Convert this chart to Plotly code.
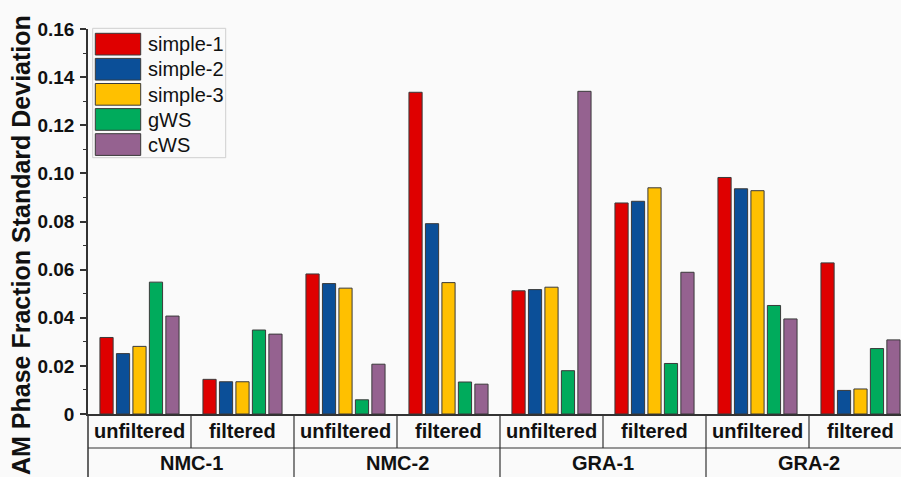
import plotly.graph_objects as go

# Sub-categories (filter state) and parent materials
subgroups = ["unfiltered", "filtered", "unfiltered", "filtered",
             "unfiltered", "filtered", "unfiltered", "filtered"]
materials = ["NMC-1", "NMC-2", "GRA-1", "GRA-2"]

# Standard deviation of AM phase fraction per method
simple_1 = [0.0318, 0.0144, 0.0582, 0.1337, 0.0512, 0.0877, 0.0983, 0.0628]
simple_2 = [0.0251, 0.0134, 0.0542, 0.0791, 0.0517, 0.0884, 0.0936, 0.0098]
simple_3 = [0.0281, 0.0134, 0.0523, 0.0546, 0.0527, 0.0940, 0.0928, 0.0104]
gws = [0.0548, 0.0349, 0.0059, 0.0133, 0.0180, 0.0210, 0.0451, 0.0272]
cws = [0.0407, 0.0332, 0.0207, 0.0124, 0.1341, 0.0589, 0.0395, 0.0308]

series_names = ["simple-1", "simple-2", "simple-3", "gWS", "cWS"]
series_values = [simple_1, simple_2, simple_3, gws, cws]
colors = ["#DF0000", "#0B4F98", "#FFC000", "#00AB5C", "#956290"]

y_tickvals = [0, 0.02, 0.04, 0.06, 0.08, 0.10, 0.12, 0.14, 0.16]
y_ticktext = ["0", "0.02", "0.04", "0.06", "0.08", "0.10", "0.12", "0.14", "0.16"]

W, H = 901, 477
ML, MR, MT, MB = 88, 0, 29, 63
PW, PH = W - ML - MR, H - MT - MB
CAT_PX = 103.0  # pixel width of one sub-category column

FONT = "Liberation Sans, Arial, sans-serif"
LINE = "#333333"
BG = "#fafafa"
TXT = "#111111"


def px_x(px):
    return (px - ML) / PW


def px_y(py):
    return (H - MB - py) / PH


x_pos = list(range(len(subgroups)))

fig = go.Figure()
for name, vals, col in zip(series_names, series_values, colors):
    fig.add_trace(go.Bar(
        x=x_pos, y=vals, name=name,
        marker=dict(color=col, line=dict(color="#3a3a3a", width=1)),
        showlegend=False,
    ))

shapes = []
annotations = []

# Category table under the axis
bottom_y = px_y(H)
mid_y = px_y(448)
shapes.append(dict(type="line", xref="paper", yref="paper",
                   x0=0, x1=1, y0=mid_y, y1=mid_y,
                   line=dict(color=LINE, width=1.2)))
shapes.append(dict(type="line", xref="paper", yref="paper",
                   x0=0, x1=0, y0=0, y1=bottom_y,
                   line=dict(color=LINE, width=1.5)))
for i in range(1, len(subgroups)):
    y_end = bottom_y if i % 2 == 0 else mid_y
    shapes.append(dict(type="line", xref="x", yref="paper",
                       x0=i - 0.5, x1=i - 0.5, y0=0, y1=y_end,
                       line=dict(color=LINE, width=1.2)))

for i, lab in enumerate(subgroups):
    annotations.append(dict(x=i, y=px_y(431), xref="x", yref="paper",
                            text=f"<b>{lab}</b>", showarrow=False,
                            font=dict(family=FONT, size=20, color=TXT),
                            xanchor="center", yanchor="middle"))
for j, mat in enumerate(materials):
    annotations.append(dict(x=2 * j + 0.5, y=px_y(463), xref="x", yref="paper",
                            text=f"<b>{mat}</b>", showarrow=False,
                            font=dict(family=FONT, size=20, color=TXT),
                            xanchor="center", yanchor="middle"))

# Legend box with large swatches
shapes.append(dict(type="rect", xref="paper", yref="paper",
                   x0=px_x(92.7), x1=px_x(225.7), y0=px_y(157.7), y1=px_y(28.3),
                   line=dict(color="#cfcfcf", width=1), fillcolor=BG, layer="above"))
for k, (name, col) in enumerate(zip(series_names, colors)):
    top = 33.3 + k * 25.1
    shapes.append(dict(type="rect", xref="paper", yref="paper",
                       x0=px_x(95.3), x1=px_x(140.7),
                       y0=px_y(top + 21.7), y1=px_y(top),
                       line=dict(color="#3a3a3a", width=1), fillcolor=col,
                       layer="above"))
    annotations.append(dict(x=px_x(146), y=px_y(top + 11), xref="paper", yref="paper",
                            text=name, showarrow=False,
                            font=dict(family=FONT, size=20, color=TXT),
                            xanchor="left", yanchor="middle"))

# Rotated y-axis title
annotations.append(dict(x=px_x(21), y=px_y(245), xref="paper", yref="paper",
                        text="<b>AM Phase Fraction Standard Deviation</b>",
                        textangle=-90, showarrow=False,
                        font=dict(family=FONT, size=25, color=TXT),
                        xanchor="center", yanchor="middle"))

fig.update_layout(
    width=W, height=H,
    margin=dict(l=ML, r=MR, t=MT, b=MB, pad=0),
    paper_bgcolor=BG, plot_bgcolor=BG,
    barmode="group", bargap=0.2, bargroupgap=0.2,
    shapes=shapes, annotations=annotations,
    showlegend=False,
    xaxis=dict(
        range=[-0.5, -0.5 + PW / CAT_PX],
        showticklabels=False, ticks="", showgrid=False, zeroline=False,
        showline=True, linecolor=LINE, linewidth=1.5,
    ),
    yaxis=dict(
        range=[0, 0.16],
        tickvals=y_tickvals, ticktext=y_ticktext,
        ticks="outside", ticklen=6, tickwidth=1.5, tickcolor=LINE,
        tickfont=dict(family=FONT, size=19, color=TXT, weight="bold"),
        ticklabelstandoff=2,
        minor=dict(dtick=0.01, ticks="outside", ticklen=3, tickwidth=1.2, tickcolor=LINE),
        showgrid=False, zeroline=False,
        showline=True, linecolor=LINE, linewidth=1.5,
    ),
)

fig.write_html("out.html")
